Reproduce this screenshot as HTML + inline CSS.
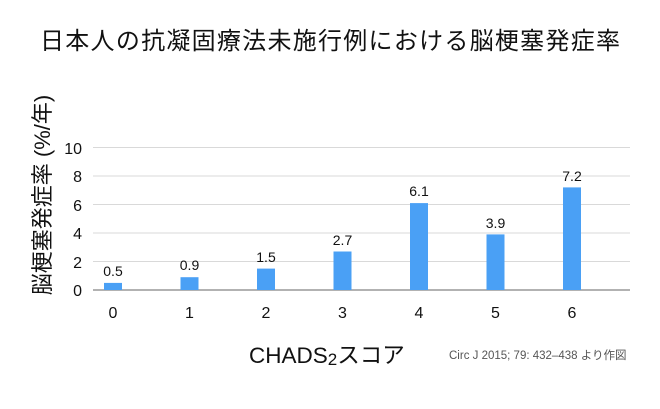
<!DOCTYPE html>
<html><head><meta charset="utf-8"><style>
body{margin:0;background:#fff}
svg{display:block}
text{font-family:"Liberation Sans","Noto Sans CJK JP",sans-serif}
</style></head><body>
<svg width="660" height="409" viewBox="0 0 660 409">
<text x="330" y="49" font-size="24" text-anchor="middle" fill="#111" textLength="580" lengthAdjust="spacing">日本人の抗凝固療法未施行例における脳梗塞発症率</text>
<g stroke="#d9d9d9" stroke-width="1">
<line x1="93" x2="630" y1="147.5" y2="147.5"/>
<line x1="93" x2="630" y1="176" y2="176"/>
<line x1="93" x2="630" y1="204.5" y2="204.5"/>
<line x1="93" x2="630" y1="233" y2="233"/>
<line x1="93" x2="630" y1="261.5" y2="261.5"/>
</g>
<line x1="93" x2="630" y1="290" y2="290" stroke="#999" stroke-width="1.5"/>
<g font-size="16" fill="#111" text-anchor="end">
<text x="82" y="154">10</text><text x="82" y="182">8</text><text x="82" y="211">6</text>
<text x="82" y="239">4</text><text x="82" y="268">2</text><text x="82" y="296">0</text>
</g>
<g fill="#4aa0f5">
<rect x="104" y="282.9" width="18" height="7.1"/>
<rect x="180.5" y="277.2" width="18" height="12.8"/>
<rect x="257" y="268.6" width="18" height="21.4"/>
<rect x="333.5" y="251.5" width="18" height="38.5"/>
<rect x="410" y="203.1" width="18" height="86.9"/>
<rect x="486.5" y="234.4" width="18" height="55.6"/>
<rect x="563" y="187.4" width="18" height="102.6"/>
</g>
<g font-size="14" fill="#111" text-anchor="middle">
<text x="113" y="276">0.5</text><text x="189.5" y="270">0.9</text><text x="266" y="262">1.5</text>
<text x="342.5" y="245">2.7</text><text x="419" y="196">6.1</text><text x="495.5" y="228">3.9</text><text x="572" y="181">7.2</text>
</g>
<g font-size="16" fill="#111" text-anchor="middle">
<text x="113" y="318">0</text><text x="189.5" y="318">1</text><text x="266" y="318">2</text>
<text x="342.5" y="318">3</text><text x="419" y="318">4</text><text x="495.5" y="318">5</text><text x="572" y="318">6</text>
</g>
<text transform="translate(50,195) rotate(-90)" font-size="22" text-anchor="middle" fill="#111">脳梗塞発症率 (%/年)</text>
<text x="249" y="363" font-size="22.5" fill="#111">CHADS<tspan font-size="17" dy="2">2</tspan><tspan dy="-2">スコア</tspan></text>
<text x="449" y="359" font-size="11.5" fill="#555">Circ J 2015; 79: 432–438 より作図</text>
</svg>
</body></html>
